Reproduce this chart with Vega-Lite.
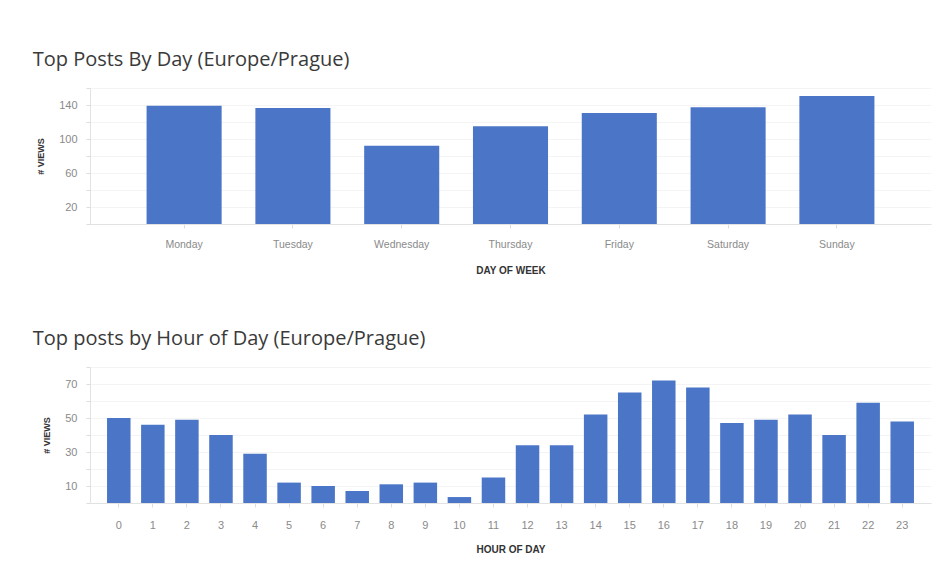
{
  "$schema": "https://vega.github.io/schema/vega-lite/v6.json",
  "padding": {"left": 32, "top": 49, "right": 2, "bottom": 8},
  "background": "white",
  "spacing": 52,
  "config": {
    "view": {"stroke": null},
    "font": "Liberation Sans",
    "title": {"font": "Open Sans", "fontSize": 20, "fontWeight": "normal", "color": "#3a3a3a", "anchor": "start", "frame": "bounds", "baseline": "alphabetic", "offset": 18},
    "axis": {
      "domainColor": "#e2e2e2",
      "gridColor": "#f4f4f4",
      "tickColor": "#dddddd",
      "tickSize": 4,
      "labelColor": "#8a8a8a",
      "labelFontSize": 11,
      "labelFont": "Liberation Sans",
      "titleFont": "Liberation Sans",
      "titleFontSize": 10,
      "titleFontWeight": "bold",
      "titleColor": "#333333"
    },
    "bar": {"color": "#4b76c8"}
  },
  "datasets": {
    "days": [
      {"day": "Monday", "views": 139},
      {"day": "Tuesday", "views": 136.5},
      {"day": "Wednesday", "views": 92},
      {"day": "Thursday", "views": 115},
      {"day": "Friday", "views": 130.5},
      {"day": "Saturday", "views": 137.5},
      {"day": "Sunday", "views": 150.5}
    ],
    "hours": [
      {"hour": 0, "views": 50},
      {"hour": 1, "views": 46},
      {"hour": 2, "views": 49},
      {"hour": 3, "views": 40},
      {"hour": 4, "views": 29},
      {"hour": 5, "views": 12},
      {"hour": 6, "views": 10},
      {"hour": 7, "views": 7},
      {"hour": 8, "views": 11},
      {"hour": 9, "views": 12},
      {"hour": 10, "views": 3.5},
      {"hour": 11, "views": 15},
      {"hour": 12, "views": 34},
      {"hour": 13, "views": 34},
      {"hour": 14, "views": 52},
      {"hour": 15, "views": 65},
      {"hour": 16, "views": 72},
      {"hour": 17, "views": 68},
      {"hour": 18, "views": 47},
      {"hour": 19, "views": 49},
      {"hour": 20, "views": 52},
      {"hour": 21, "views": 40},
      {"hour": 22, "views": 59},
      {"hour": 23, "views": 48}
    ]
  },
  "vconcat": [
    {
      "title": {"text": "Top Posts By Day (Europe/Prague)", "dx": -4},
      "data": {"name": "days"},
      "width": 841,
      "height": 136,
      "mark": {"type": "bar"},
      "encoding": {
        "x": {
          "field": "day", "type": "nominal", "sort": null,
          "scale": {"paddingInner": 0.31, "paddingOuter": 0.52},
          "axis": {"title": "DAY OF WEEK", "labelAngle": 0, "labelFontSize": 10.5, "labelPadding": 11, "titlePadding": 16, "grid": false}
        },
        "y": {
          "field": "views", "type": "quantitative",
          "scale": {"domain": [0, 160]},
          "axis": {"title": "# VIEWS", "titleFontSize": 9, "values": [0, 20, 40, 60, 80, 100, 120, 140, 160], "labelExpr": "datum.value % 40 == 20 ? datum.label : ''", "labelPadding": 9, "titlePadding": 13}
        }
      }
    },
    {
      "title": {"text": "Top posts by Hour of Day (Europe/Prague)", "dx": -10},
      "data": {"name": "hours"},
      "width": 841,
      "height": 136,
      "mark": {"type": "bar"},
      "encoding": {
        "x": {
          "field": "hour", "type": "ordinal",
          "scale": {"paddingInner": 0.31, "paddingOuter": 0.5},
          "axis": {"title": "HOUR OF DAY", "labelAngle": 0, "labelPadding": 12, "titlePadding": 14, "grid": false}
        },
        "y": {
          "field": "views", "type": "quantitative",
          "scale": {"domain": [0, 80]},
          "axis": {"title": "# VIEWS", "titleFontSize": 9, "values": [0, 10, 20, 30, 40, 50, 60, 70, 80], "labelExpr": "datum.value % 20 == 10 ? datum.label : ''", "labelPadding": 9, "titlePadding": 13}
        }
      }
    }
  ]
}
